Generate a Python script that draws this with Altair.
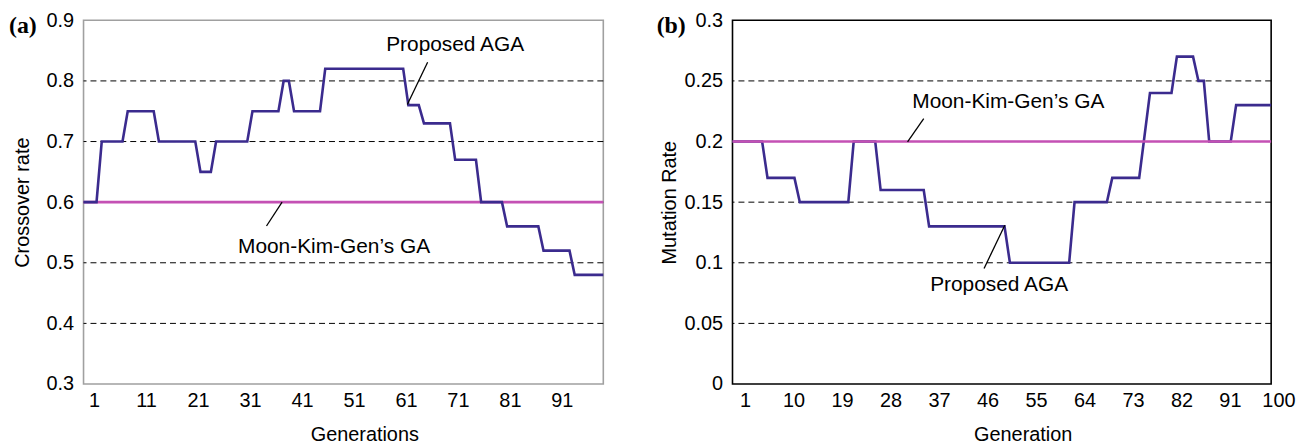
import altair as alt
import pandas as pd

FONT = "Liberation Sans"
NAVY = "#3b2b8e"
MAGENTA = "#c451b4"

# ---------------- panel (a): crossover rate ----------------
a_gen = [0.5, 3, 4, 8, 9, 14, 15, 22, 23, 25, 26, 32, 33, 38, 39, 40, 41, 46, 47,
         62, 63, 65, 66, 71, 72, 76, 77, 81, 82, 88, 89, 94, 95, 100.5]
a_rate = [0.6, 0.6, 0.7, 0.7, 0.75, 0.75, 0.7, 0.7, 0.65, 0.65, 0.7, 0.7, 0.75, 0.75,
          0.8, 0.8, 0.75, 0.75, 0.82, 0.82, 0.76, 0.76, 0.73, 0.73, 0.67, 0.67, 0.6,
          0.6, 0.56, 0.56, 0.52, 0.52, 0.48, 0.48]
a_moon_gen = [0.5, 100.5]
a_moon_rate = [0.6, 0.6]
a_yticks = [0.3, 0.4, 0.5, 0.6, 0.7, 0.8, 0.9]
a_grid = [0.4, 0.5, 0.6, 0.7, 0.8]
a_xticks = [1, 11, 21, 31, 41, 51, 61, 71, 81, 91]
a_note_text = ["Proposed AGA", "Moon-Kim-Gen\u2019s GA"]
a_note_gen = [72.0, 48.7]
a_note_rate = [0.849, 0.516]
a_lead_gen = [66.7, 38.7]
a_lead_rate = [0.8307, 0.6]
a_lead_gen2 = [62.8, 35.7]
a_lead_rate2 = [0.7611, 0.5607]

# ---------------- panel (b): mutation rate ----------------
b_gen = [0.5, 6, 7, 12, 13, 22, 23, 27, 28, 36, 37, 51, 52, 63, 64, 70, 71, 76, 78,
         82, 83, 86, 87, 88, 89, 93, 94, 100.5]
b_rate = [0.2, 0.2, 0.17, 0.17, 0.15, 0.15, 0.2, 0.2, 0.16, 0.16, 0.13, 0.13, 0.1,
          0.1, 0.15, 0.15, 0.17, 0.17, 0.24, 0.24, 0.27, 0.27, 0.25, 0.25, 0.2, 0.2,
          0.23, 0.23]
b_moon_gen = [0.5, 100.5]
b_moon_rate = [0.2, 0.2]
b_yticks = [0, 0.05, 0.1, 0.15, 0.2, 0.25, 0.3]
b_grid = [0.05, 0.1, 0.15, 0.2, 0.25]
b_xticks = [1, 10, 19, 28, 37, 46, 55, 64, 73, 82, 91, 100]
b_note_text = ["Moon-Kim-Gen\u2019s GA", "Proposed AGA"]
b_note_gen = [51.7, 50.0]
b_note_rate = [0.2279, 0.077]
b_lead_gen = [36.0, 51.05]
b_lead_rate = [0.2189, 0.1309]
b_lead_gen2 = [33.0, 47.2]
b_lead_rate2 = [0.1998, 0.0953]


def panel(tag, gen, rate, moon_gen, moon_rate, yticks, ydomain, yfmt, grid, xticks,
          ytitle, xtitle, note_text, note_gen, note_rate, lg, lr, lg2, lr2,
          width, height, border, moon_on_top, label_dx, ytitle_x):
    xs = alt.Scale(domain=[0.5, 100.5], nice=False, zero=False)
    ys = alt.Scale(domain=ydomain, nice=False, zero=False)
    xaxis = alt.Axis(values=xticks, title=xtitle, grid=False, ticks=False, domain=False,
                     labelOffset=label_dx, labelFlush=False, labelOverlap=False,
                     labelPadding=7, titleX=width / 2 + 21, titleY=57,
                     titleBaseline="alphabetic")
    yaxis = alt.Axis(values=yticks, format=yfmt, title=ytitle, grid=False, ticks=False,
                     domain=False, labelPadding=10, labelFlush=False, labelOverlap=False,
                     titleX=ytitle_x, titleY=height / 2, titleAngle=270,
                     titleBaseline="middle", titleAlign="center")
    X = lambda f: alt.X(f, type="quantitative", scale=xs, axis=xaxis)
    Y = lambda f: alt.Y(f, type="quantitative", scale=ys, axis=yaxis)

    grid_df = pd.DataFrame({"r": grid})
    line_df = pd.DataFrame({"g": gen, "r": rate, "i": list(range(len(gen)))})
    moon_df = pd.DataFrame({"g": moon_gen, "r": moon_rate})
    note_df = pd.DataFrame({"g": note_gen, "r": note_rate, "t": note_text})
    lead_df = pd.DataFrame({"g": lg, "r": lr, "g2": lg2, "r2": lr2})
    tag_df = pd.DataFrame({"t": [tag]})

    grid_l = alt.Chart(grid_df).mark_rule(color="black", strokeWidth=1,
                                          strokeDash=[6, 4]).encode(y=Y("r"))
    prop_l = alt.Chart(line_df).mark_line(color=NAVY, strokeWidth=2.6).encode(
        x=X("g"), y=Y("r"), order="i:Q")
    moon_l = alt.Chart(moon_df).mark_line(color=MAGENTA, strokeWidth=2.6).encode(
        x=X("g"), y=Y("r"))
    lead_l = alt.Chart(lead_df).mark_rule(color="black", strokeWidth=1.3).encode(
        x=X("g"), y=Y("r"), x2="g2", y2="r2")
    note_l = alt.Chart(note_df).mark_text(font=FONT, fontSize=21, color="black",
                                          align="center", baseline="alphabetic").encode(
        x=X("g"), y=Y("r"), text="t:N")
    tag_l = alt.Chart(tag_df).mark_text(font="Liberation Serif", fontSize=24,
                                        fontWeight="bold", color="black", align="right",
                                        baseline="alphabetic").encode(
        x=alt.value(-47), y=alt.value(13), text="t:N")
    lines = [moon_l, prop_l] if not moon_on_top else [prop_l, moon_l]
    return alt.layer(grid_l, *lines, lead_l, note_l, tag_l).properties(
        width=width, height=height,
        view=alt.ViewBackground(stroke=border, strokeWidth=1.6))


pa = panel("(a)", a_gen, a_rate, a_moon_gen, a_moon_rate, a_yticks, [0.3, 0.9], ".1f",
           a_grid, a_xticks, "Crossover rate", "Generations", a_note_text, a_note_gen,
           a_note_rate, a_lead_gen, a_lead_rate, a_lead_gen2, a_lead_rate2,
           523, 366, "#a0a0a0", False, 8, -61)
pb = panel("(b)", b_gen, b_rate, b_moon_gen, b_moon_rate, b_yticks, [0, 0.3], ".2~f",
           b_grid, b_xticks, "Mutation Rate", "Generation", b_note_text, b_note_gen,
           b_note_rate, b_lead_gen, b_lead_rate, b_lead_gen2, b_lead_rate2,
           542, 366, "black", True, 10, -63)

chart = alt.hconcat(pa, pb, spacing=46).properties(
    padding={"left": 0, "top": 0, "right": 0, "bottom": 0}
).configure(
    background="white"
).configure_axis(
    labelFont=FONT, titleFont=FONT, labelFontSize=20, titleFontSize=20,
    labelColor="black", titleColor="black", titleFontWeight="normal"
)

chart.save("out.html", embed_options={"renderer": "svg", "actions": False})
